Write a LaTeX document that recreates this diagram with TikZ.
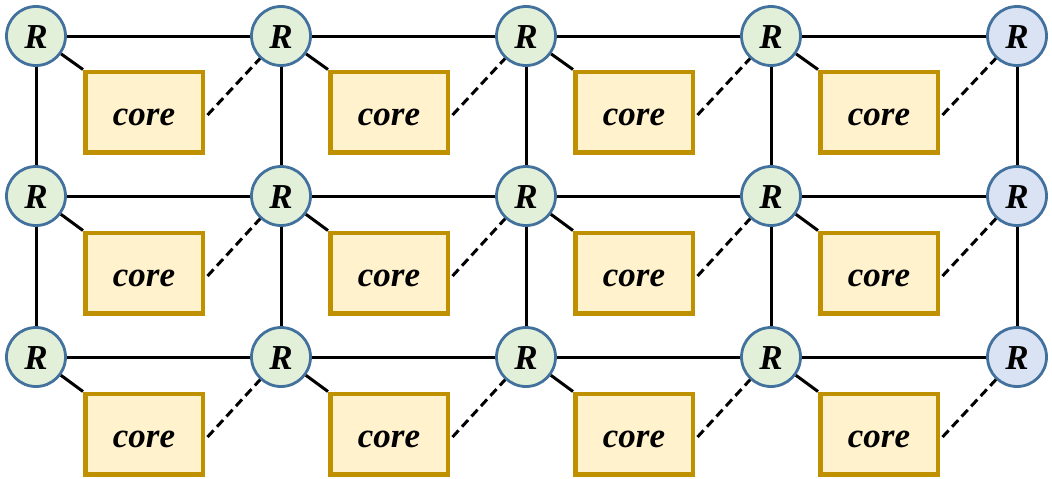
\documentclass[tikz,border=0pt]{standalone}
\usepackage{fontspec}
\newfontfamily\tnrbi{Liberation Serif Bold Italic}
\begin{document}
\begin{tikzpicture}[x=1pt,y=-1pt,
  router/.style={circle,draw=rblue,line width=2.8pt,fill=rgreen,minimum size=59pt,inner sep=0pt,
    text height=24pt,text depth=0pt,font=\fontsize{35}{36}\tnrbi},
  edgerouter/.style={router,fill=rlblue},
  corebox/.style={rectangle,draw=cgold,line width=4.5pt,fill=cyellow,minimum width=117.5pt,minimum height=80.5pt,inner sep=0pt,
    text height=26pt,text depth=0pt,font=\fontsize{35}{38}\tnrbi},
  link/.style={line width=3pt,black},
  dlink/.style={link,dash pattern=on 9pt off 5pt}]
\definecolor{rblue}{HTML}{41719C}
\definecolor{rgreen}{HTML}{E2F0D9}
\definecolor{rlblue}{HTML}{DAE3F3}
\definecolor{cgold}{HTML}{BF9000}
\definecolor{cyellow}{HTML}{FFF2CC}
\useasboundingbox (0,0) rectangle (1052,479);
% routers
\foreach \r/\y in {1/36,2/196,3/357}{
  \foreach \c/\x in {1/36,2/281,3/526,4/771}{
    \node[router] (R\r\c) at (\x,\y) {R};
  }
  \node[edgerouter] (R\r5) at (1017,\y) {R};
}
% cores
\foreach \r/\y in {1/112,2/273,3/434}{
  \foreach \c/\x in {1/144,2/389,3/634,4/879}{
    \node[corebox] (C\r\c) at (\x,\y) {core};
  }
}
% horizontal links
\foreach \r in {1,2,3}{
  \draw[link] (R\r1) -- (R\r2);
  \draw[link] (R\r2) -- (R\r3);
  \draw[link] (R\r3) -- (R\r4);
  \draw[link] (R\r4) -- (R\r5);
}
% vertical links
\foreach \c in {1,2,3,4,5}{
  \draw[link] (R1\c) -- (R2\c);
  \draw[link] (R2\c) -- (R3\c);
}
% core links
\foreach \r in {1,2,3}{
  \draw[link] (R\r1) -- (C\r1.north west);
  \draw[link] (R\r2) -- (C\r2.north west);
  \draw[link] (R\r3) -- (C\r3.north west);
  \draw[link] (R\r4) -- (C\r4.north west);
  \path (C\r1.east) ++(2.5pt,-3pt) coordinate (d\r1);
  \draw[dlink] (d\r1) -- (R\r2);
  \path (C\r2.east) ++(2.5pt,-3pt) coordinate (d\r2);
  \draw[dlink] (d\r2) -- (R\r3);
  \path (C\r3.east) ++(2.5pt,-3pt) coordinate (d\r3);
  \draw[dlink] (d\r3) -- (R\r4);
  \path (C\r4.east) ++(2.5pt,-3pt) coordinate (d\r4);
  \draw[dlink] (d\r4) -- (R\r5);
}
\end{tikzpicture}
\end{document}
